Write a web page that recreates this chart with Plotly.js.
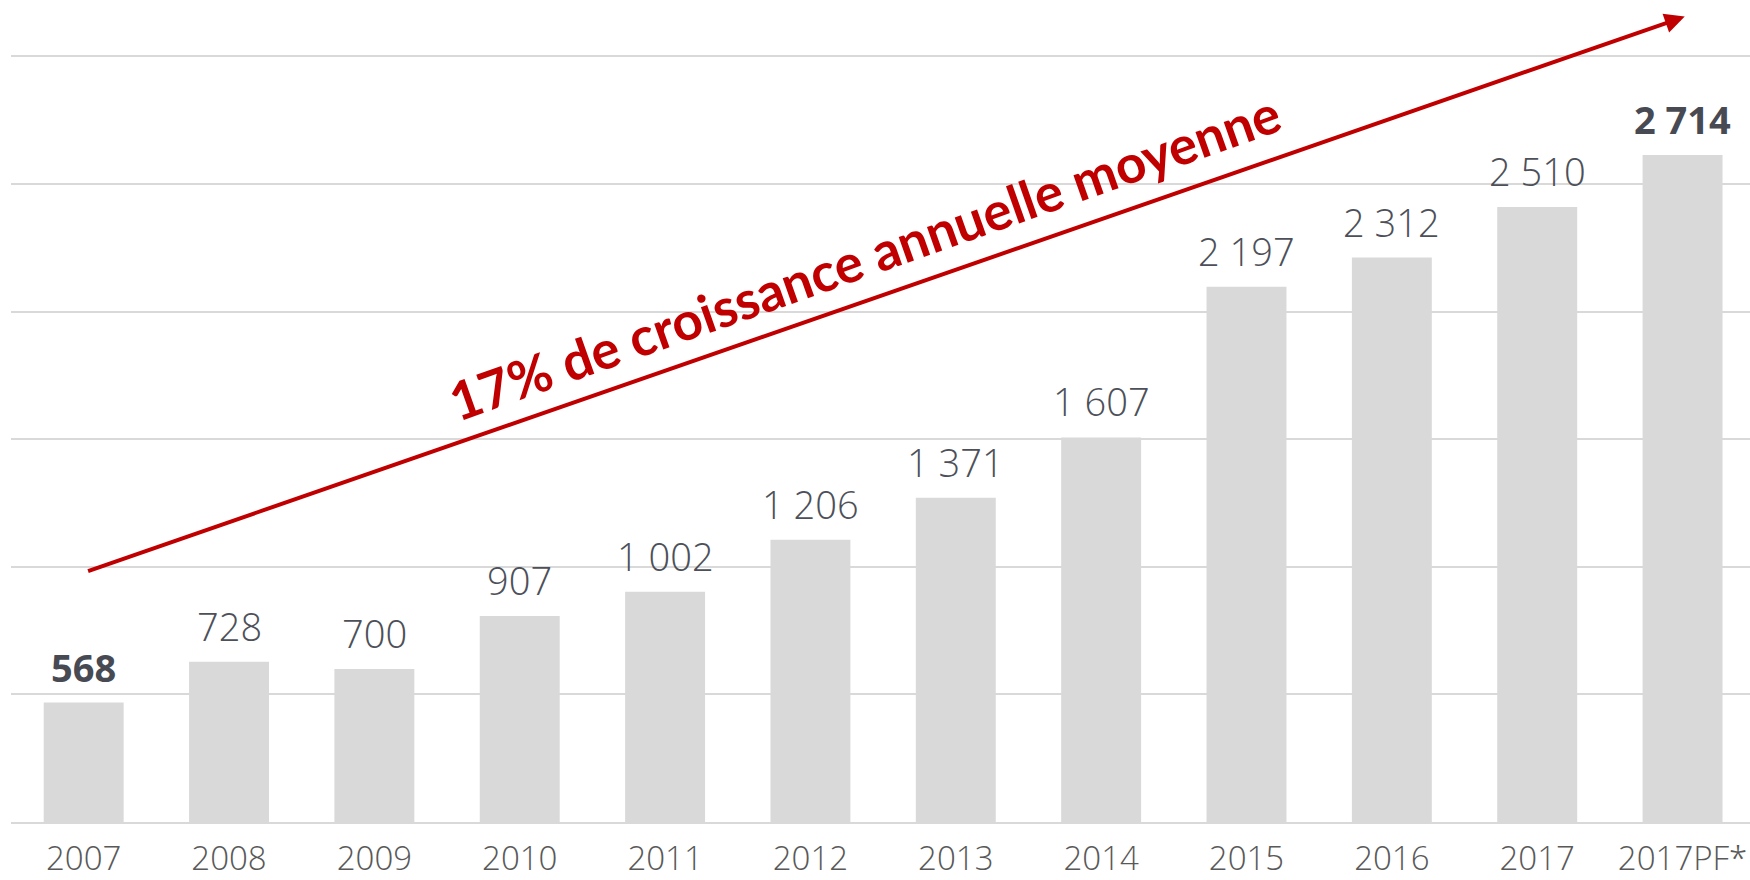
<!DOCTYPE html>
<html>
<head>
<meta charset="utf-8">
<script src="https://cdn.plot.ly/plotly-3.0.1.min.js"></script>
<style>html,body{margin:0;padding:0;background:#fff;}#chart{width:1750px;height:880px;}</style>
</head>
<body>
<div id="chart"></div>
<script>
var years = ["2007","2008","2009","2010","2011","2012","2013","2014","2015","2016","2017","2017PF*"];
var values = [568, 728, 700, 907, 1002, 1206, 1371, 1607, 2197, 2312, 2510, 2714];
var valueLabels = ["568","728","700","907","1 002","1 206","1 371","1 607","2 197","2 312","2 510","2 714"];
var boldLabels = [true,false,false,false,false,false,false,false,false,false,false,true];
var growthText = "17% de croissance annuelle moyenne";
var arrowFrom = [0.02, 1081];
var arrowTo = [11.015, 3256];

var lightFont = "Open Sans Light, Open Sans";

var trace = {
  type: "bar",
  x: years.map(function(_, i){ return i; }),
  y: values,
  marker: {color: "#d9d9d9"},
  hoverinfo: "skip"
};

var annotations = values.map(function(v, i){
  return {
    x: i, y: v, xref: "x", yref: "y",
    text: boldLabels[i] ? "<b>" + valueLabels[i] + "</b>" : valueLabels[i],
    showarrow: false, yanchor: "bottom", yshift: 8,
    font: {family: boldLabels[i] ? "Open Sans" : lightFont, size: 38, color: boldLabels[i] ? "#474a52" : "#4d5059", weight: boldLabels[i] ? 700 : 300}
  };
});

annotations.push({
  x: arrowTo[0], y: arrowTo[1], xref: "x", yref: "y",
  ax: arrowFrom[0], ay: arrowFrom[1], axref: "x", ayref: "y",
  text: "", showarrow: true, arrowhead: 2, arrowsize: 1.0, arrowwidth: 4,
  arrowcolor: "#c00000", standoff: 0, startstandoff: 0
});

annotations.push({
  x: 5.369, y: 2315, xref: "x", yref: "y",
  text: "<b>" + growthText + "</b>",
  showarrow: false, textangle: -19.5,
  font: {family: "Lato", size: 53, color: "#c00000"}
});

var layout = {
  width: 1750, height: 880,
  margin: {l: 11, r: 0, t: 0, b: 58},
  paper_bgcolor: "#ffffff", plot_bgcolor: "#ffffff",
  showlegend: false,
  bargap: 0.45,
  xaxis: {
    range: [-0.5, 11.464],
    tickmode: "array", tickvals: years.map(function(_, i){ return i; }), ticktext: years,
    showgrid: false, zeroline: false, ticks: "",
    showline: true, linecolor: "#d9d9d9", linewidth: 2,
    ticklabelstandoff: 6,
    tickfont: {family: lightFont, size: 33, color: "#595959", weight: 300},
    fixedrange: true
  },
  yaxis: {
    range: [100, 3321],
    tick0: 100, dtick: 500,
    showgrid: true, gridcolor: "#d9d9d9", gridwidth: 2,
    showticklabels: false, zeroline: false, showline: false, ticks: "",
    fixedrange: true
  },
  annotations: annotations
};

Plotly.newPlot("chart", [trace], layout, {displayModeBar: false, staticPlot: true});
</script>
</body>
</html>
